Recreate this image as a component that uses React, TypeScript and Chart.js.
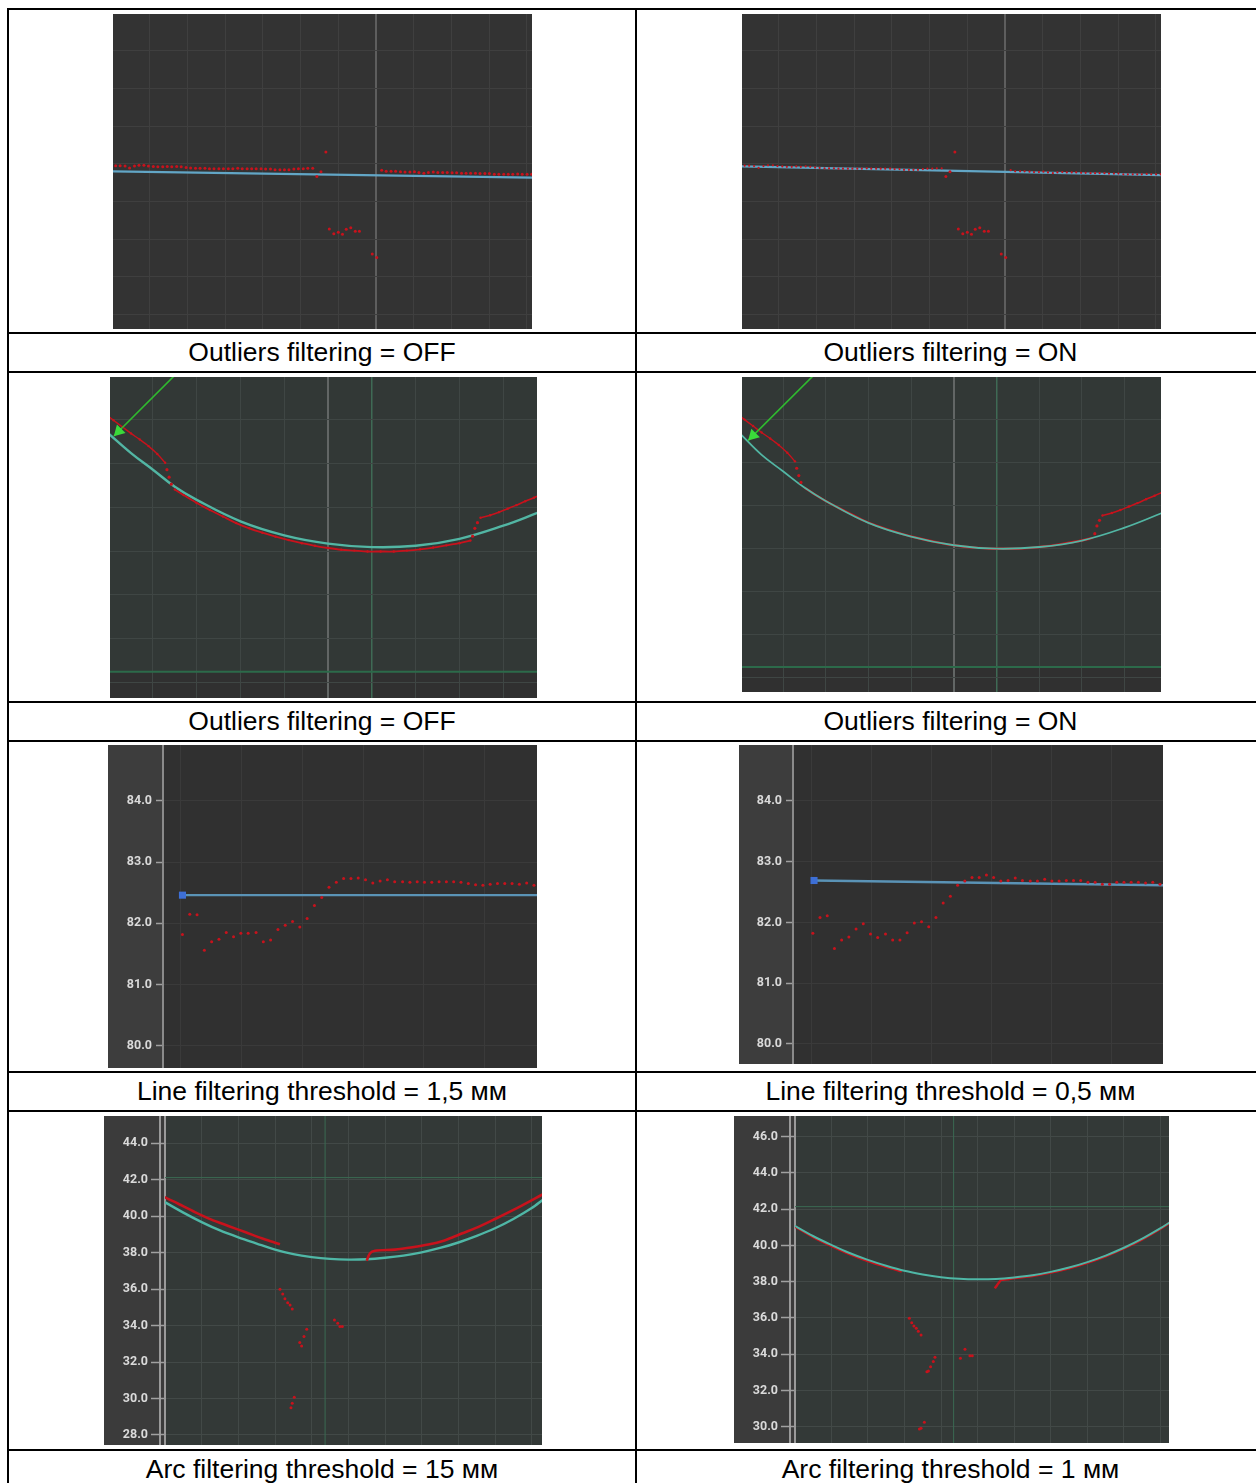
import React, { useEffect, useRef } from "react";
import { Chart, registerables } from "chart.js";

Chart.register(...registerables);

// ---------------- Row 1: straight line, outliers filtering ----------------
const lineLeftX = [-6.91, -6.79, -6.66, -6.54, -6.41, -6.29, -6.16, -6.04, -5.91, -5.79, -5.66, -5.54, -5.42, -5.29, -5.17, -5.04, -4.92, -4.79, -4.67, -4.54, -4.42, -4.3, -4.17, -4.05, -3.92, -3.8, -3.67, -3.55, -3.42, -3.3, -3.18, -3.05, -2.93, -2.8, -2.68, -2.55, -2.43, -2.31, -2.18, -2.06, -1.93, -1.81, -1.68];
const lineLeftY = [-0.05, -0.05, -0.06, -0.11, -0.06, -0.04, -0.04, -0.06, -0.07, -0.08, -0.08, -0.07, -0.08, -0.07, -0.08, -0.1, -0.11, -0.12, -0.12, -0.12, -0.13, -0.13, -0.13, -0.13, -0.13, -0.13, -0.12, -0.13, -0.13, -0.13, -0.13, -0.13, -0.14, -0.14, -0.16, -0.16, -0.16, -0.16, -0.14, -0.13, -0.13, -0.12, -0.12];
const lineRightX = [0.15, 0.27, 0.4, 0.52, 0.65, 0.77, 0.9, 1.02, 1.14, 1.27, 1.39, 1.52, 1.64, 1.77, 1.89, 2.02, 2.14, 2.27, 2.39, 2.51, 2.64, 2.76, 2.89, 3.01, 3.14, 3.26, 3.39, 3.51, 3.63, 3.76, 3.88, 4.01, 4.13];
const lineRightY = [-0.17, -0.2, -0.2, -0.2, -0.21, -0.22, -0.22, -0.21, -0.23, -0.25, -0.23, -0.22, -0.23, -0.23, -0.23, -0.24, -0.24, -0.25, -0.25, -0.25, -0.25, -0.26, -0.26, -0.26, -0.28, -0.28, -0.28, -0.28, -0.28, -0.27, -0.28, -0.28, -0.28];
const lineOutX = [-1.57, -1.46, -1.33, -1.24, -1.12, -1.0, -0.89, -0.79, -0.67, -0.55, -0.44, -0.1, 0.02];
const lineOutY = [-0.34, -0.21, 0.31, -1.73, -1.86, -1.82, -1.87, -1.74, -1.7, -1.79, -1.79, -2.4, -2.49];
const lineFitX = [-7.0, 4.2];
const lineFitOffY = [-0.2, -0.37];
const lineFitOnY = [-0.07, -0.3];

// ---------------- Row 2: arc, outliers filtering ----------------
const arcSegAX = [-6.1, -5.9, -5.7, -5.5, -5.3, -5.1, -4.9, -4.72];
const arcSegAY = [4.14, 3.99, 3.84, 3.69, 3.55, 3.4, 3.22, 3.02];
const arcSegBX = [-4.68, -4.63, -4.58];
const arcSegBY = [2.86, 2.69, 2.53];
const arcSegCX = [-4.5, -4.3, -4.0, -3.7, -3.4, -3.1, -2.8, -2.5, -2.2, -1.9, -1.6, -1.3, -1.0, -0.7, -0.4, -0.1, 0.2, 0.5, 0.8, 1.1, 1.4, 1.7, 2.0, 2.25];
const arcSegCY = [2.41, 2.28, 2.1, 1.94, 1.79, 1.64, 1.52, 1.42, 1.33, 1.25, 1.18, 1.12, 1.07, 1.03, 1.01, 0.99, 0.99, 0.99, 1.01, 1.04, 1.08, 1.13, 1.18, 1.24];
const arcSegDX = [2.3, 2.35, 2.41];
const arcSegDY = [1.34, 1.52, 1.65];
const arcSegEX = [2.48, 2.7, 2.9, 3.1, 3.3, 3.5, 3.7, 3.9];
const arcSegEY = [1.76, 1.82, 1.89, 1.97, 2.05, 2.14, 2.22, 2.31];
const arcFitOffX = [-6.05, -5.5, -5.0, -4.5, -4.0, -3.0, -2.0, -1.0, 0, 1.0, 2.0, 3.0, 3.8];
const arcFitOffY = [3.72, 3.24, 2.86, 2.47, 2.17, 1.68, 1.36, 1.17, 1.09, 1.12, 1.28, 1.58, 1.88];
const arcFitOnX = [-6.0, -5.5, -5.0, -4.5, -4.0, -3.0, -2.0, -1.0, 0, 1.0, 2.0, 3.0, 3.9];
const arcFitOnY = [3.66, 3.17, 2.79, 2.41, 2.1, 1.59, 1.27, 1.07, 0.99, 1.03, 1.18, 1.48, 1.83];
const arrowOffX = [-5.89, -4.3];
const arrowOffY = [3.63, 5.22];
const arrowOnX = [-5.82, -4.1];
const arrowOnY = [3.5, 5.2];
const arrowHeadOff = [-5.78, 3.74];
const arrowHeadOn = [-5.7, 3.62];
const floorX = [-7, 5];
const floorY = [-1.76, -1.76];

// ---------------- Row 3: line filtering threshold ----------------
const thrX = [0.03, 0.15, 0.27, 0.39, 0.51, 0.63, 0.75, 0.87, 0.99, 1.11, 1.24, 1.36, 1.48, 1.6, 1.72, 1.84, 1.96, 2.08, 2.2, 2.32, 2.44, 2.56, 2.68, 2.8, 2.92, 3.04, 3.16, 3.28, 3.4, 3.52, 3.65, 3.77, 3.89, 4.01, 4.13, 4.25, 4.37, 4.49, 4.61, 4.73, 4.85, 4.97, 5.09, 5.21, 5.33, 5.45, 5.57, 5.69, 5.81];
const thr15Y = [81.82, 82.15, 82.14, 81.56, 81.7, 81.74, 81.85, 81.78, 81.84, 81.84, 81.85, 81.7, 81.73, 81.9, 81.97, 82.03, 81.94, 82.08, 82.29, 82.42, 82.59, 82.67, 82.73, 82.73, 82.74, 82.71, 82.66, 82.69, 82.71, 82.68, 82.68, 82.67, 82.68, 82.67, 82.67, 82.68, 82.68, 82.68, 82.67, 82.65, 82.63, 82.62, 82.64, 82.65, 82.65, 82.65, 82.64, 82.66, 82.62];
const thr05Y = [81.82, 82.08, 82.11, 81.57, 81.71, 81.76, 81.89, 81.98, 81.81, 81.75, 81.81, 81.71, 81.71, 81.83, 81.99, 82.01, 81.93, 82.08, 82.32, 82.43, 82.61, 82.68, 82.74, 82.74, 82.78, 82.74, 82.68, 82.69, 82.73, 82.69, 82.68, 82.68, 82.71, 82.68, 82.68, 82.69, 82.69, 82.69, 82.66, 82.66, 82.63, 82.63, 82.66, 82.66, 82.66, 82.66, 82.65, 82.66, 82.63];
const thr15FitX = [0.03, 6.0];
const thr15FitY = [82.46, 82.46];
const thr05FitX = [0.05, 6.0];
const thr05FitY = [82.69, 82.61];

// ---------------- Row 4: arc filtering threshold ----------------
const a15FitX = [-8.3, -7, -6, -5, -4, -3, -2, -1, 0, 1, 2, 3, 4, 5, 6, 7, 8, 9, 10, 11, 12, 12.6];
const a15FitY = [40.94, 40.2, 39.68, 39.22, 38.84, 38.5, 38.17, 37.92, 37.76, 37.66, 37.62, 37.64, 37.72, 37.84, 38.02, 38.26, 38.56, 38.92, 39.34, 39.85, 40.45, 40.9];
const a15RedLX = [-8.28, -7.3, -6.37, -5.5, -4.55, -3.6, -2.73, -2.0, -1.73];
const a15RedLY = [41.17, 40.7, 40.23, 39.83, 39.47, 39.12, 38.79, 38.55, 38.46];
const a15RedRX = [3.0, 3.18, 3.45, 4.54, 5.5, 6.36, 7.2, 7.82, 8.18, 9.1, 10.0, 11.3, 12.6];
const a15RedRY = [37.56, 37.97, 38.11, 38.17, 38.3, 38.45, 38.66, 38.9, 39.05, 39.42, 39.85, 40.5, 41.2];
const a15OutX = [-1.73, -1.58, -1.46, -1.31, -1.18, -1.06, -0.27, -0.42, -0.65, -0.55, -0.95, -1.06, -1.13, 1.24, 1.42, 1.54, 1.67];
const a15OutY = [35.99, 35.74, 35.48, 35.26, 35.13, 34.91, 33.8, 33.4, 33.07, 32.88, 30.07, 29.74, 29.5, 34.31, 34.13, 33.95, 33.95];
const a15RefV = 0.73;
const a15RefH = 42.12;

const a1FitX = [-8.2, -7, -6, -5, -4, -3, -2, -1, 0, 1, 2, 3, 4, 5, 6, 7, 8, 9, 10, 11, 12, 12.5];
const a1FitY = [41.2, 40.52, 40.03, 39.58, 39.2, 38.88, 38.6, 38.4, 38.25, 38.16, 38.13, 38.15, 38.23, 38.35, 38.54, 38.78, 39.08, 39.44, 39.87, 40.37, 40.95, 41.27];
const a1RedLX = [-8.2, -7, -6, -5, -4, -3, -2.15];
const a1RedLY = [41.17, 40.47, 39.97, 39.52, 39.14, 38.82, 38.56];
const a1RedRX = [2.94, 3.07, 3.2, 3.31, 3.6, 4, 5, 6, 7, 8, 9, 10, 11, 12, 12.5];
const a1RedRY = [37.63, 37.82, 38.0, 38.1, 38.13, 38.2, 38.31, 38.5, 38.74, 39.04, 39.4, 39.83, 40.33, 40.92, 41.25];
const a1OutX = [-1.73, -1.6, -1.48, -1.35, -1.24, -1.09, -0.33, -0.42, -0.57, -0.69, -0.77, -0.91, -1.09, -1.18, 1.06, 1.31, 1.58, 1.71];
const a1OutY = [35.98, 35.74, 35.55, 35.43, 35.26, 35.06, 33.83, 33.59, 33.31, 33.07, 33.03, 30.24, 29.91, 29.87, 33.77, 34.27, 33.92, 33.92];
const a1RefV = 0.69;
const a1RefH = 42.14;

const captions = [
  ["Outliers filtering = OFF", "Outliers filtering = ON"],
  ["Outliers filtering = OFF", "Outliers filtering = ON"],
  ["Line filtering threshold = 1,5 мм", "Line filtering threshold = 0,5 мм"],
  ["Arc filtering threshold = 15 мм", "Arc filtering threshold = 1 мм"],
];

// ---------------- helpers ----------------
const RED = "#c8121c";
const pts = (xs: number[], ys: number[]) => xs.map((x, i) => ({ x, y: ys[i] }));
const dots = (data: any, r = 1.4, color = RED) => ({
  data, showLine: false, pointRadius: r, pointBackgroundColor: color, pointBorderWidth: 0, pointStyle: "circle",
});
const line = (data: any, color: string, width: number, tension = 0) => ({
  data, showLine: true, borderColor: color, borderWidth: width, pointRadius: 0, tension, fill: false,
});
const dotLine = (data: any, color: string, width: number, r: number, tension = 0.3) => ({
  data, showLine: true, borderColor: color, borderWidth: width, pointRadius: r, pointBackgroundColor: color,
  pointBorderWidth: 0, tension, fill: false,
});
const marker = (x: number, y: number, style: string, r: number, color: string, rotation = 0) => ({
  data: [{ x, y }], showLine: false, pointStyle: style, pointRadius: r, pointRotation: rotation,
  pointBackgroundColor: color, pointBorderColor: color, pointBorderWidth: 0,
});

const bgPlugin = {
  id: "bg",
  beforeDraw(chart: any, _a: any, opts: any) {
    const { ctx, chartArea: a, width, height } = chart;
    ctx.save();
    ctx.fillStyle = opts.panel || opts.plot;
    ctx.fillRect(0, 0, width, height);
    ctx.fillStyle = opts.plot;
    ctx.fillRect(a.left, a.top, a.right - a.left, a.bottom - a.top);
    if (opts.band) {
      const yb = chart.scales.y.getPixelForValue(opts.band[0]);
      ctx.fillStyle = opts.band[1];
      ctx.fillRect(a.left, yb, a.right - a.left, a.bottom - yb);
    }
    if (opts.extraLine) {
      ctx.fillStyle = opts.extraLine;
      ctx.fillRect(a.left - 6, 0, 2, height);
    }
    ctx.restore();
  },
};

function buildConfig(s: any) {
  const special = s.xSpecial || {};
  const gc = (c: any) => {
    const v = c.tick ? String(c.tick.value) : "";
    return special[v] ? special[v][0] : s.grid;
  };
  const gw = (c: any) => {
    const v = c.tick ? String(c.tick.value) : "";
    return special[v] ? special[v][1] : 1;
  };
  let yScale: any = {
    type: "linear", min: s.y[0], max: s.y[1],
    ticks: { display: false, stepSize: s.y[2], includeBounds: false },
    grid: { color: s.grid, lineWidth: 1, drawTicks: false },
    border: { display: false },
  };
  if (s.yAxis) {
    const ya = s.yAxis;
    yScale = {
      type: "linear", min: s.y[0], max: s.y[1],
      ticks: {
        display: true, stepSize: s.y[2], includeBounds: false, color: "#dadada", padding: ya.pad,
        font: { family: "Roboto, 'Liberation Sans', sans-serif", size: 12.5, weight: "bold" },
        callback: (v: any) => Number(v).toFixed(1),
      },
      grid: { color: s.grid, lineWidth: 1, drawTicks: true, tickLength: ya.tickLength, tickColor: "#a0a0a0", tickWidth: 1.5 },
      border: { display: true, color: ya.border, width: 2 },
      afterFit: (sc: any) => {
        sc.width = ya.width;
        sc.paddingTop = 0;
        sc.paddingBottom = 0;
      },
    };
  }
  return {
    type: "scatter",
    data: { datasets: s.datasets },
    options: {
      responsive: false,
      maintainAspectRatio: false,
      animation: false,
      events: [],
      layout: { padding: 0, autoPadding: false },
      plugins: {
        legend: { display: false },
        tooltip: { enabled: false },
        bg: { plot: s.plot, panel: s.panel, band: s.band, extraLine: s.yAxis ? s.yAxis.extraLine : undefined },
      },
      scales: {
        x: {
          type: "linear", min: s.x[0], max: s.x[1],
          ticks: { display: false, stepSize: s.x[2], includeBounds: false },
          grid: { color: gc, lineWidth: gw, drawTicks: false },
          border: { display: false },
        },
        y: yScale,
      },
    },
    plugins: [bgPlugin],
  };
}

function ChartBox({ spec }: any) {
  const ref = useRef<HTMLCanvasElement | null>(null);
  useEffect(() => {
    if (!ref.current) return;
    const chart = new Chart(ref.current, buildConfig(spec) as any);
    return () => chart.destroy();
  }, []);
  return (
    <canvas
      ref={ref}
      width={spec.w}
      height={spec.h}
      style={{ position: "absolute", left: spec.left, top: spec.top, width: spec.w, height: spec.h, display: "block" }}
    />
  );
}

// ---------------- chart specs ----------------
const row1Grid = { plot: "#333333", grid: "#3f3f3f", xSpecial: { "0": ["#5e5e5e", 2] } };
const row2Grid = { plot: "#323836", grid: "#3f4644", band: [-1.76, "#303030"], xSpecial: { "-1": ["#626665", 2], "0": ["#3f6a55", 1.5] } };
const row3Style = { plot: "#303030", panel: "#3d3d3d", grid: "#3a3a3a" };
const row4Style = { plot: "#333937", panel: "#3b3b3b", grid: "#424947" };

const specs: any[] = [
  {
    left: 113, top: 14, w: 419, h: 315, x: [-6.98, 4.14, 1], y: [-4.39, 3.98, 1], ...row1Grid,
    datasets: [
      dots(pts(lineLeftX, lineLeftY), 1.5), dots(pts(lineRightX, lineRightY), 1.5), dots(pts(lineOutX, lineOutY), 1.5),
      line(pts(lineFitX, lineFitOffY), "#62a6c6", 2.2),
    ],
  },
  {
    left: 742, top: 14, w: 419, h: 315, x: [-6.98, 4.14, 1], y: [-4.39, 3.98, 1], ...row1Grid,
    datasets: [
      dots(pts(lineLeftX, lineLeftY), 1.1), dots(pts(lineRightX, lineRightY), 1.1), dots(pts(lineOutX, lineOutY), 1.5),
      line(pts(lineFitX, lineFitOnY), "#62a6c6", 2.2),
    ],
  },
  {
    left: 110, top: 377, w: 427, h: 321, x: [-5.98, 3.77, 1], y: [-2.36, 4.98, 1], ...row2Grid,
    datasets: [
      marker(arrowHeadOff[0], arrowHeadOff[1], "triangle", 7, "#3ada3a", 225),
      line(pts(arrowOffX, arrowOffY), "#2fba2f", 1.6),
      dotLine(pts(arcSegAX, arcSegAY), RED, 1.4, 1.2), dots(pts(arcSegBX, arcSegBY), 1.6),
      dotLine(pts(arcSegCX, arcSegCY), RED, 1.8, 1.2), dots(pts(arcSegDX, arcSegDY), 1.6),
      dotLine(pts(arcSegEX, arcSegEY), RED, 1.6, 1.2),
      line(pts(arcFitOffX, arcFitOffY), "#52b6a4", 2.4, 0.4),
      line(pts(floorX, floorY), "#2c6a4a", 2),
    ],
  },
  {
    left: 742, top: 377, w: 419, h: 315, x: [-5.96, 3.85, 1], y: [-2.34, 4.98, 1], ...row2Grid,
    datasets: [
      marker(arrowHeadOn[0], arrowHeadOn[1], "triangle", 7, "#3ada3a", 225),
      line(pts(arrowOnX, arrowOnY), "#2fba2f", 1.6),
      dotLine(pts(arcSegAX, arcSegAY), RED, 1.4, 1.2), dots(pts(arcSegBX, arcSegBY), 1.6),
      dotLine(pts(arcSegEX, arcSegEY), RED, 1.6, 1.2), dots(pts(arcSegDX, arcSegDY), 1.6),
      line(pts(arcFitOnX, arcFitOnY), "#52b6a4", 1.8, 0.4),
      dotLine(pts(arcSegCX, arcSegCY), RED, 2.4, 0.8),
      line(pts(floorX, floorY), "#2c6a4a", 2),
    ],
  },
  {
    left: 108, top: 745, w: 429, h: 323, x: [-0.29, 5.86, 1], y: [79.64, 84.91, 1], ...row3Style,
    yAxis: { width: 55, tickLength: 7, pad: 4, border: "#8a8a8a" },
    datasets: [
      marker(thr15FitX[0], thr15FitY[0], "rect", 5, "#3d6fd6"),
      dots(pts(thrX, thr15Y), 1.5),
      line(pts(thr15FitX, thr15FitY), "#5a93b6", 2.4),
    ],
  },
  {
    left: 739, top: 745, w: 424, h: 319, x: [-0.3, 5.86, 1], y: [79.67, 84.92, 1], ...row3Style,
    yAxis: { width: 54, tickLength: 7, pad: 4, border: "#8a8a8a" },
    datasets: [
      marker(thr05FitX[0], thr05FitY[0], "rect", 5, "#3d6fd6"),
      dots(pts(thrX, thr05Y), 1.5),
      line(pts(thr05FitX, thr05FitY), "#5a93b6", 2.4),
    ],
  },
  {
    left: 104, top: 1116, w: 438, h: 329, x: [-8.0, 12.56, 2], y: [27.45, 45.5, 2], ...row4Style,
    yAxis: { width: 61, tickLength: 14, pad: 3, border: "#9a9a9a", extraLine: "#9a9a9a" },
    datasets: [
      dotLine(pts(a15RedLX, a15RedLY), RED, 2.6, 0, 0.3),
      dotLine(pts(a15RedRX, a15RedRY), RED, 2.6, 0, 0.3),
      dots(pts(a15OutX, a15OutY), 1.5),
      line(pts(a15FitX, a15FitY), "#4fb7a6", 2.4, 0.3),
      line([{ x: a15RefV, y: 20 }, { x: a15RefV, y: 50 }], "#3b6a52", 1),
      line([{ x: -10, y: a15RefH }, { x: 15, y: a15RefH }], "#3b6a52", 1),
    ],
  },
  {
    left: 734, top: 1116, w: 435, h: 327, x: [-7.98, 12.46, 2], y: [29.1, 47.14, 2], ...row4Style,
    yAxis: { width: 61, tickLength: 14, pad: 3, border: "#9a9a9a", extraLine: "#9a9a9a" },
    datasets: [
      dots(pts(a1OutX, a1OutY), 1.5),
      line(pts(a1FitX, a1FitY), "#4fb7a6", 2.0, 0.3),
      dotLine(pts(a1RedLX, a1RedLY), RED, 2.4, 0, 0.3),
      dotLine(pts(a1RedRX, a1RedRY), RED, 2.4, 0, 0.3),
      line([{ x: a1RefV, y: 20 }, { x: a1RefV, y: 50 }], "#3b6a52", 1),
      line([{ x: -10, y: a1RefH }, { x: 15, y: a1RefH }], "#3b6a52", 1),
    ],
  },
];

const H_LINES = [8, 332, 371, 701, 740, 1071, 1110, 1449];
const V_LINES = [7, 635, 1264];
const CAPTION_TOPS = [334, 703, 1073, 1451];

export default function App() {
  return (
    <div style={{ position: "fixed", left: 0, top: 0, width: "100vw", height: "100vh", overflow: "hidden", background: "#fff" }}>
      {H_LINES.map((y, i) => (
        <div key={"h" + i} style={{ position: "absolute", left: 7, top: y, width: 1300, height: 2, background: "#000" }} />
      ))}
      {V_LINES.map((x, i) => (
        <div key={"v" + i} style={{ position: "absolute", left: x, top: 8, width: 2, height: 1600, background: "#000" }} />
      ))}
      {CAPTION_TOPS.map((t, r) =>
        [0, 1].map((c) => (
          <div
            key={"c" + r + c}
            style={{
              position: "absolute", left: c === 0 ? 9 : 637, width: c === 0 ? 626 : 627, top: t, height: 37,
              lineHeight: "37px", textAlign: "center", fontFamily: "'Liberation Sans', Arial, sans-serif",
              fontSize: 26.5, color: "#000", whiteSpace: "nowrap",
            }}
          >
            {captions[r][c]}
          </div>
        ))
      )}
      {specs.map((s, i) => (
        <ChartBox key={"ch" + i} spec={s} />
      ))}
    </div>
  );
}
